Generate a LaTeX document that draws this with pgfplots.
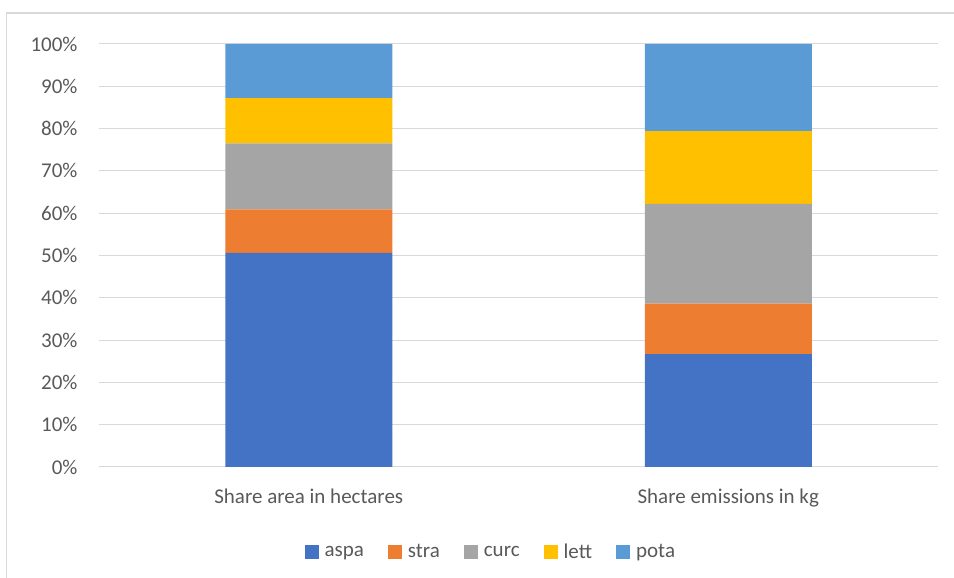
\documentclass[border=0pt]{standalone}
\usepackage{pgfplots}
\pgfplotsset{compat=1.18}
\usepackage{fontspec}
\setmainfont{Carlito}
\definecolor{caspa}{HTML}{4472C4}
\definecolor{cstra}{HTML}{ED7D31}
\definecolor{ccurc}{HTML}{A5A5A5}
\definecolor{clett}{HTML}{FFC000}
\definecolor{cpota}{HTML}{5B9BD5}
\definecolor{gridc}{HTML}{D9D9D9}
\definecolor{txtc}{HTML}{595959}
\begin{document}
\begin{tikzpicture}
\useasboundingbox (0pt,0pt) rectangle (954pt,578pt);
\begin{scope}
\clip (0pt,0pt) rectangle (954pt,578pt);
\draw[gridc, line width=1.2pt] (6.5pt,-10pt) rectangle (970pt,565pt);
\end{scope}
\begin{axis}[
  at={(99pt,111pt)}, anchor=south west,
  scale only axis, width=839pt, height=423pt,
  ybar stacked, bar width=167pt,
  xmin=-0.5, xmax=1.5, ymin=0, ymax=100,
  xtick={0,1}, xticklabels={Share area in hectares, Share emissions in kg},
  ytick={0,10,...,100},
  yticklabel={\pgfmathprintnumber{\tick}\%},
  /pgf/number format/assume math mode=true,
  ymajorgrids, grid style={gridc, line width=1pt},
  axis line style={draw=none},
  axis x line*=bottom,
  x axis line style={draw=gridc, line width=1pt},
  tick style={draw=none},
  major tick length=0pt,
  ticklabel style={font=\fontsize{21}{25}\selectfont, text=txtc},
  yticklabel style={xshift=-18pt},
  xticklabel style={yshift=-18pt},
  legend style={at={(0.467,-0.201)}, anchor=center, draw=none,
    legend columns=5, font=\fontsize{21}{25}\selectfont, text=txtc,
    /tikz/every even column/.append style={column sep=22pt}},
  legend image code/.code={\fill[#1] (0pt,-7pt) rectangle (14pt,7pt); \path (18pt,0pt);},
  clip=false,
]
\addplot[fill=caspa, draw=none] coordinates {(0,50.6) (1,26.7)};
\addplot[fill=cstra, draw=none] coordinates {(0,10.3) (1,11.9)};
\addplot[fill=ccurc, draw=none] coordinates {(0,15.6) (1,23.6)};
\addplot[fill=clett, draw=none] coordinates {(0,10.7) (1,17.2)};
\addplot[fill=cpota, draw=none] coordinates {(0,12.8) (1,20.6)};
\legend{aspa, stra, curc, lett, pota}
\end{axis}
\end{tikzpicture}
\end{document}
